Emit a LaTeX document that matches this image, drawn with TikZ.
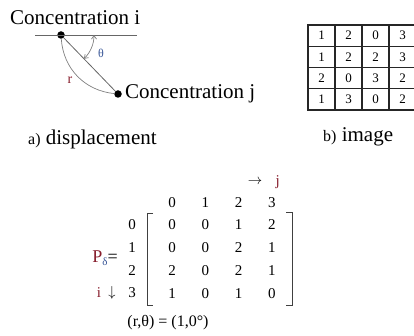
\documentclass[tikz,border=0pt]{standalone}
\usepackage{fontspec}
\setmainfont{Liberation Serif}
\usetikzlibrary{arrows.meta,positioning}

\definecolor{idxred}{RGB}{135,30,45}
\definecolor{angblue}{RGB}{55,85,150}

\begin{document}
\begin{tikzpicture}[x=1pt, y=-1pt,
  dot/.style={circle, fill=black, inner sep=0pt, minimum size=7.5pt},
  big/.style={font=\rmfamily\fontsize{21}{24}\selectfont, inner sep=0pt},
  medtext/.style={font=\fontsize{16}{18}\selectfont, inner sep=0pt},
  cell/.style={draw=black!85, line width=1.1pt, minimum width=27pt,
               minimum height=21.25pt, inner sep=0pt,
               font=\fontsize{13}{15}\selectfont},
  entry/.style={font=\fontsize{15}{17}\selectfont, inner sep=0pt},
  guide/.style={black!60, line width=0.8pt},
  brk/.style={black!75, line width=0.9pt},
  angarr/.style={{Straight Barb[length=3.5pt, width=5pt]}-{Straight Barb[length=3.5pt, width=5pt]}}
]
  \useasboundingbox (0,0) rectangle (414,336);
  % Displacement
  \node[dot] (ci) at (61,35) {};
  \node[dot] (cj) at (118,94) {};
  \node[big, anchor=base west] (ti) at (10,25) {Concentration i};
  \node[big, right=3pt of cj] (tj) {Concentration j};
  \draw[guide] ([xshift=-26pt]ci.center) -- ([xshift=76pt]ci.center);
  \draw[guide] (ci) -- (cj);
  \draw[gray, line width=0.7pt] (ci) to[bend right=40] (cj);
  \draw[gray, line width=0.7pt, angarr] ([xshift=33pt]ci.center)
    arc[start angle=0, end angle=-46, radius=33pt];
  \node[font=\fontsize{12}{14}\selectfont, text=angblue] (theta) at (101,53) {θ};
  \node[font=\fontsize{14}{16}\selectfont, text=idxred] (r) at (70,80) {r};
  \node[big, anchor=base west] (capa) at (28,145)
    {{\fontsize{16}{18}\selectfont a)} displacement};
  % Image
  \foreach \a/\b/\c/\d [count=\k from 0] in {1/2/0/3, 1/2/2/3, 2/0/3/2, 1/3/0/2} {
    \foreach \v [count=\m from 0] in {\a,\b,\c,\d}
      \node[cell] (t\k\m) at (321.5+27*\m, 35.6+21.25*\k) {\v};
  }
  \node[big, anchor=base west] (capb) at (323,142)
    {{\fontsize{16}{18}\selectfont b)} image};
  % Co-occurrence matrix
  \foreach \m in {0,...,3}
    \node[entry] (c\m) at (172+33.3*\m, 203) {\m};
  \foreach \a/\b/\c/\d [count=\k from 0] in {0/0/1/2, 0/0/2/1, 2/0/2/1, 1/0/1/0} {
    \node[entry] (r\k) at (132, 225+22.7*\k) {\k};
    \foreach \v [count=\m from 0] in {\a,\b,\c,\d}
      \node[entry] (m\k\m) at (172+33.3*\m, 225+22.7*\k) {\v};
  }
  \draw[brk] (153,213) -- (147,213) -- (147,305) -- (153,305);
  \draw[brk] (286,212) -- (292,212) -- (292,305) -- (286,305);
  \node[entry] (arrj) at (255,182) {$\rightarrow$};
  \node[entry, text=idxred, right=13pt of arrj] (j) {j};
  \node[entry] (arri) at (112,293) {$\downarrow$};
  \node[entry, text=idxred, left=7pt of arri] (i) {i};
  \node[font=\fontsize{18}{20}\selectfont, inner sep=0pt, anchor=east] (p) at (118,258)
    {\textcolor{idxred}{P}\raisebox{-3.5pt}{\textcolor{angblue}{\fontsize{11}{11}\selectfont δ}}=};
  \node[medtext] (rt) at (168,323) {(r,θ) = (1,0°)};
\end{tikzpicture}
\end{document}
